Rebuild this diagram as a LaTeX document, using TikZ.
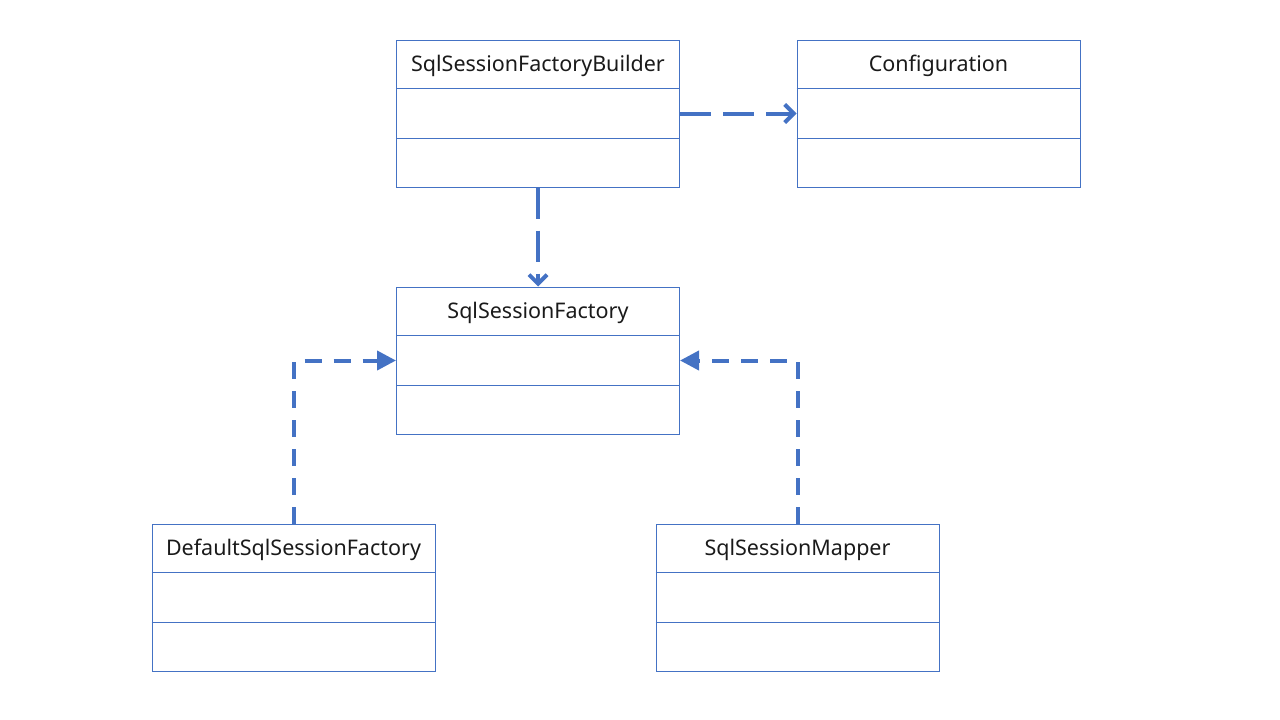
\documentclass[tikz,border=0pt]{standalone}
\usepackage{fontspec}
\setmainfont{Noto Sans}
\usetikzlibrary{arrows.meta}
\definecolor{umlblue}{HTML}{4472C4}
\definecolor{umltext}{HTML}{1A1A1A}
\tikzset{
  classbox/.style={draw=umlblue,line width=1pt,minimum width=283pt,minimum height=147pt,inner sep=0pt},
  classtitle/.style={anchor=north,minimum height=49pt,inner sep=0pt,text height=15.4pt,text depth=0pt,text=umltext,font=\fontsize{21.5}{24}\selectfont},
  split/.style={draw=umlblue,line width=1pt},
  dep/.style={umlblue,line width=4pt,dash pattern=on 31pt off 12pt,-{Straight Barb[length=9pt,width=18pt,line width=4pt]}},
  impl/.style={umlblue,line width=4pt,dash pattern=on 17pt off 12pt,line join=miter,-{Triangle[length=19pt,width=19pt]}}
}
\begin{document}
\begin{tikzpicture}[x=1pt,y=-1pt]
 \useasboundingbox (0,0) rectangle (1280,720);
  \foreach \nm/\x/\y/\ttl in {builder/538/113.5/SqlSessionFactoryBuilder,
      config/938.5/113.5/Configuration, factory/538/360.5/SqlSessionFactory,
      default/293.5/597.5/DefaultSqlSessionFactory, mapper/797.5/597.5/SqlSessionMapper} { % class boxes
    \node[classbox] (\nm) at (\x,\y) {};
    \node[classtitle] (\nm-title) at (\nm.north) {\ttl}; % class name
    \draw[split] ([yshift=-49pt]\nm.north west) -- ([yshift=-49pt]\nm.north east); % attributes
    \draw[split] ([yshift=49pt]\nm.south west) -- ([yshift=49pt]\nm.south east); % methods
  }
  \draw[dep] (builder.east) -- (config.west);
  \draw[dep] (builder.south) -- (factory.north);
  \draw[impl] (default.north) |- (factory.west);
  \draw[impl] (mapper.north) |- (factory.east);
\end{tikzpicture}
\end{document}
